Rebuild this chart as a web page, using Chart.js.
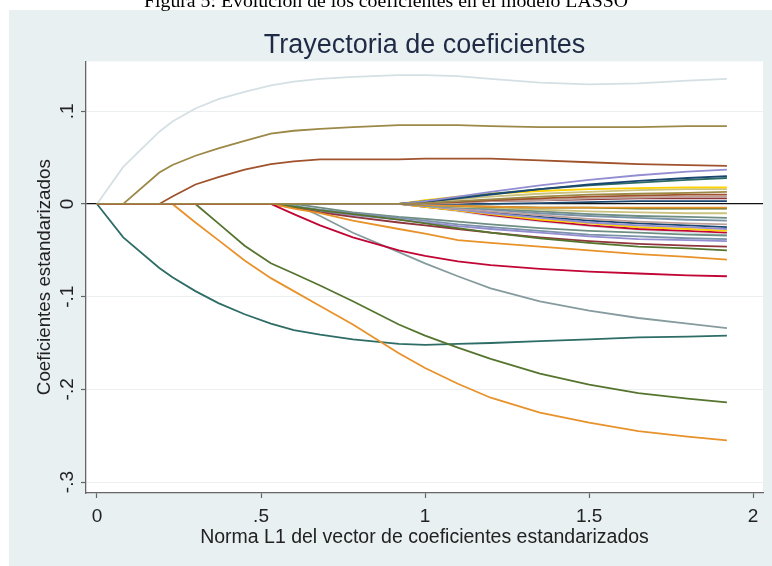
<!DOCTYPE html>
<html lang="es">
<head>
<meta charset="utf-8">
<title>Trayectoria de coeficientes</title>
<script src="https://cdn.jsdelivr.net/npm/chart.js@4.4.1/dist/chart.umd.min.js"></script>
<style>
  html, body { margin: 0; padding: 0; background: #fff; }
  body { width: 772px; height: 566px; position: relative; overflow: hidden; }
  #chart { position: absolute; left: 0; top: 0; }
  #caption {
    position: absolute; left: 0; top: -10px; width: 772px;
    text-align: center; color: #000;
    font: 19.8px "Liberation Serif", serif; line-height: 20px;
  }
</style>
</head>
<body>
<canvas id="chart" width="772" height="566"></canvas>
<div id="caption">Figura 5: Evolución de los coeficientes en el modelo LASSO</div>
<script>
// L1 norm of the standardized coefficient vector (x grid shared by every path)
const normL1 = [0, 0.08, 0.19, 0.23, 0.30, 0.37, 0.45, 0.53, 0.60, 0.68, 0.78, 0.92, 1.00, 1.10, 1.20, 1.35, 1.50, 1.65, 1.80, 1.92];

const xTickValues = [0, 0.5, 1, 1.5, 2];
const xTickLabels = ['0', '.5', '1', '1.5', '2'];
const yTickValues = [-0.3, -0.2, -0.1, 0, 0.1];
const yTickLabels = ['-.3', '-.2', '-.1', '0', '.1'];

// coefficient paths, one value per grid point
const b01 = [0, 0.040, 0.078, 0.089, 0.103, 0.113, 0.121, 0.128, 0.132, 0.135, 0.137, 0.139, 0.139, 0.138, 0.135, 0.131, 0.129, 0.130, 0.133, 0.135];
const b02 = [0, 0, 0.034, 0.042, 0.052, 0.060, 0.068, 0.076, 0.079, 0.081, 0.083, 0.085, 0.085, 0.085, 0.084, 0.083, 0.083, 0.083, 0.084, 0.084];
const b03 = [0, 0, 0, 0.008, 0.021, 0.029, 0.037, 0.043, 0.046, 0.048, 0.048, 0.048, 0.049, 0.049, 0.049, 0.047, 0.045, 0.043, 0.042, 0.041];
const b04 = [0, -0.036, -0.069, -0.079, -0.094, -0.107, -0.119, -0.129, -0.136, -0.141, -0.146, -0.151, -0.152, -0.151, -0.150, -0.148, -0.146, -0.144, -0.143, -0.142];
const b05 = [0, 0, 0, 0, -0.020, -0.039, -0.061, -0.080, -0.094, -0.110, -0.130, -0.161, -0.177, -0.194, -0.209, -0.225, -0.236, -0.245, -0.251, -0.255];
const b06 = [0, 0, 0, 0, 0, -0.021, -0.045, -0.064, -0.075, -0.088, -0.105, -0.130, -0.142, -0.155, -0.167, -0.183, -0.195, -0.204, -0.210, -0.214];
const b07 = [0, 0, 0, 0, 0, 0, 0, 0, 0, -0.013, -0.031, -0.052, -0.064, -0.078, -0.091, -0.105, -0.115, -0.123, -0.129, -0.134];
const b08 = [0, 0, 0, 0, 0, 0, 0, 0, -0.011, -0.023, -0.036, -0.050, -0.056, -0.062, -0.066, -0.070, -0.073, -0.075, -0.077, -0.078];
const b09 = [0, 0, 0, 0, 0, 0, 0, 0, -0.005, -0.010, -0.018, -0.027, -0.032, -0.039, -0.042, -0.046, -0.050, -0.054, -0.057, -0.060];
const b10 = [0, 0, 0, 0, 0, 0, 0, 0, -0.003, -0.007, -0.011, -0.017, -0.021, -0.026, -0.031, -0.037, -0.042, -0.046, -0.048, -0.050];
const b11 = [0, 0, 0, 0, 0, 0, 0, 0, -0.004, -0.009, -0.014, -0.020, -0.023, -0.027, -0.031, -0.036, -0.040, -0.043, -0.045, -0.046];
const b12 = [0, 0, 0, 0, 0, 0, 0, 0, -0.004, -0.008, -0.012, -0.017, -0.020, -0.024, -0.027, -0.031, -0.035, -0.038, -0.039, -0.040];
const b13 = [0, 0, 0, 0, 0, 0, 0, 0, -0.002, -0.006, -0.010, -0.015, -0.018, -0.022, -0.025, -0.029, -0.033, -0.035, -0.037, -0.038];
const b14 = [0, 0, 0, 0, 0, 0, 0, 0, 0, -0.004, -0.009, -0.014, -0.016, -0.019, -0.022, -0.026, -0.029, -0.031, -0.033, -0.034];
const b15 = [0, 0, 0, 0, 0, 0, 0, 0, 0, 0, 0, 0, 0.003, 0.008, 0.013, 0.020, 0.026, 0.031, 0.035, 0.037];
const b16 = [0, 0, 0, 0, 0, 0, 0, 0, 0, 0, 0, 0, 0.002, 0.006, 0.010, 0.016, 0.021, 0.025, 0.028, 0.030];
const b17 = [0, 0, 0, 0, 0, 0, 0, 0, 0, 0, 0, 0, 0.003, 0.007, 0.011, 0.016, 0.020, 0.023, 0.026, 0.028];
const b18 = [0, 0, 0, 0, 0, 0, 0, 0, 0, 0, 0, 0, 0.004, 0.008, 0.011, 0.014, 0.016, 0.017, 0.018, 0.018];
const b19 = [0, 0, 0, 0, 0, 0, 0, 0, 0, 0, 0, 0, 0.002, 0.005, 0.008, 0.011, 0.013, 0.015, 0.016, 0.016];
const b20 = [0, 0, 0, 0, 0, 0, 0, 0, 0, 0, 0, 0, 0.001, 0.003, 0.005, 0.008, 0.010, 0.011, 0.012, 0.013];
const b21 = [0, 0, 0, 0, 0, 0, 0, 0, 0, 0, 0, 0, 0.001, 0.002, 0.004, 0.006, 0.008, 0.009, 0.010, 0.010];
const b22 = [0, 0, 0, 0, 0, 0, 0, 0, 0, 0, 0, 0, 0, 0.001, 0.003, 0.004, 0.006, 0.007, 0.008, 0.008];
const b23 = [0, 0, 0, 0, 0, 0, 0, 0, 0, 0, 0, 0, 0, 0, 0, 0.001, 0.002, 0.003, 0.003, 0.003];
const b24 = [0, 0, 0, 0, 0, 0, 0, 0, 0, 0, 0, 0, -0.001, -0.002, -0.003, -0.004, -0.004, -0.004, -0.004, -0.004];
const b25 = [0, 0, 0, 0, 0, 0, 0, 0, 0, 0, 0, 0, 0.001, 0.002, 0.003, 0.004, 0.005, 0.006, 0.006, 0.006];
const b26 = [0, 0, 0, 0, 0, 0, 0, 0, 0, 0, 0, 0, -0.001, -0.002, -0.003, -0.004, -0.004, -0.005, -0.005, -0.005];
const b27 = [0, 0, 0, 0, 0, 0, 0, 0, 0, 0, 0, 0, -0.001, -0.003, -0.004, -0.006, -0.008, -0.009, -0.010, -0.010];
const b28 = [0, 0, 0, 0, 0, 0, 0, 0, 0, 0, 0, 0, -0.001, -0.003, -0.005, -0.008, -0.011, -0.013, -0.014, -0.015];
const b29 = [0, 0, 0, 0, 0, 0, 0, 0, 0, 0, 0, 0, -0.002, -0.004, -0.006, -0.010, -0.013, -0.015, -0.017, -0.018];
const b30 = [0, 0, 0, 0, 0, 0, 0, 0, 0, 0, 0, 0, -0.002, -0.005, -0.008, -0.012, -0.016, -0.019, -0.021, -0.022];
const b31 = [0, 0, 0, 0, 0, 0, 0, 0, 0, 0, 0, 0, -0.002, -0.006, -0.010, -0.015, -0.020, -0.023, -0.025, -0.027];
const b32 = [0, 0, 0, 0, 0, 0, 0, 0, 0, 0, 0, 0, -0.003, -0.007, -0.011, -0.017, -0.021, -0.025, -0.027, -0.029];
const b33 = [0, 0, 0, 0, 0, 0, 0, 0, 0, 0, 0, 0, -0.003, -0.007, -0.012, -0.018, -0.023, -0.027, -0.029, -0.031];
const b34 = [0, 0, 0, 0, 0, 0, 0, 0, 0, 0, 0, 0, -0.003, -0.008, -0.013, -0.019, -0.024, -0.028, -0.031, -0.033];
const b35 = [0, 0, 0, 0, 0, 0, 0, 0, 0, 0, 0, 0, -0.002, -0.005, -0.009, -0.014, -0.018, -0.021, -0.023, -0.025];

// Stata s2color style palette
const C = {
  navy: '#1a476f', maroon: '#90353b', forest: '#55752f', dkorange: '#e8922a',
  teal: '#6e8e84', cranberry: '#c10534', lavender: '#938dd2', khaki: '#cac27e',
  sienna: '#a0522d', emidblue: '#7b92a8', emerald: '#2d6d66', brown: '#9c8847',
  erose: '#bfa19c', gold: '#ffd200', bluishgray: '#d4e0e4', gray: '#869b9e'
};

// first entry is drawn on top
const paths = [
  [b20, C.brown], [b08, C.cranberry], [b09, C.dkorange], [b10, C.forest],
  [b11, C.maroon], [b12, C.lavender], [b13, C.emidblue], [b14, C.teal],
  [b15, C.lavender], [b16, C.navy], [b17, C.emerald], [b18, C.gold],
  [b19, C.khaki], [b21, C.sienna], [b22, C.erose], [b23, C.navy],
  [b24, C.dkorange], [b25, C.maroon], [b26, C.forest], [b27, C.khaki],
  [b28, C.teal], [b29, C.emidblue], [b30, C.erose], [b31, C.lavender],
  [b32, C.gold], [b33, C.cranberry], [b34, C.bluishgray], [b35, C.navy],
  [b07, C.gray], [b06, C.forest], [b05, C.dkorange], [b04, C.emerald],
  [b03, C.sienna], [b02, C.brown], [b01, C.bluishgray]
];

const FONT = '"Liberation Sans", Arial, sans-serif';

const datasets = paths.map(([vals, color]) => ({
  data: normL1.map((x, i) => ({ x: x, y: vals[i] })),
  borderColor: color,
  borderWidth: 1.8,
  pointRadius: 0,
  fill: false,
  tension: 0
}));

// light bluish graph region plus white plot region
const panelPlugin = {
  id: 'panel',
  beforeDraw(chart) {
    const { ctx, chartArea: a } = chart;
    ctx.save();
    ctx.fillStyle = '#e9f0f2';
    ctx.fillRect(9, 10, chart.width - 9, chart.height - 10);
    ctx.fillStyle = '#ffffff';
    ctx.fillRect(a.left, a.top, a.right - a.left, a.bottom - a.top);
    ctx.restore();
  }
};

new Chart(document.getElementById('chart'), {
  type: 'line',
  data: { datasets },
  plugins: [panelPlugin],
  options: {
    responsive: false,
    animation: false,
    events: [],
    layout: { padding: { left: 9, right: 9, top: 0, bottom: 0 } },
    plugins: {
      legend: { display: false },
      tooltip: { enabled: false },
      title: {
        display: true,
        text: 'Trayectoria de coeficientes',
        fullSize: false,
        color: '#1f2b45',
        font: { family: FONT, size: 27, weight: 'normal' },
        padding: { top: 29, bottom: 0 }
      }
    },
    scales: {
      x: {
        type: 'linear',
        min: -0.0335,
        max: 2.03,
        afterBuildTicks: s => { s.ticks = xTickValues.map(v => ({ value: v })); },
        afterFit: s => { s.height = 73; },
        grid: { drawOnChartArea: false, tickLength: 5, tickColor: '#666', tickWidth: 1.2 },
        border: { color: '#666', width: 1.3 },
        ticks: {
          autoSkip: false, maxRotation: 0, minRotation: 0, padding: 7.5,
          color: '#222', font: { family: FONT, size: 19 },
          callback: v => xTickLabels[xTickValues.indexOf(v)]
        },
        title: {
          display: true,
          text: 'Norma L1 del vector de coeficientes estandarizados',
          color: '#222',
          font: { family: FONT, size: 19.5 },
          padding: { top: 0, bottom: 17 }
        }
      },
      y: {
        type: 'linear',
        min: -0.3118,
        max: 0.1538,
        afterBuildTicks: s => { s.ticks = yTickValues.map(v => ({ value: v })); },
        afterFit: s => { s.width = 77; },
        grid: {
          color: c => (c.tick && c.tick.value === 0 ? '#111' : '#eceff0'),
          lineWidth: c => (c.tick && c.tick.value === 0 ? 1.3 : 1),
          tickLength: 5, tickColor: '#666', tickWidth: 1.2
        },
        border: { color: '#666', width: 1.3 },
        ticks: {
          minRotation: 90, maxRotation: 90, crossAlign: 'center', padding: 2,
          color: '#222', font: { family: FONT, size: 19 },
          callback: v => yTickLabels[yTickValues.indexOf(v)]
        },
        title: {
          display: true,
          text: 'Coeficientes estandarizados',
          color: '#222',
          font: { family: FONT, size: 18.8 },
          padding: { top: 24.8, bottom: 0 }
        }
      }
    }
  }
});
</script>
</body>
</html>
